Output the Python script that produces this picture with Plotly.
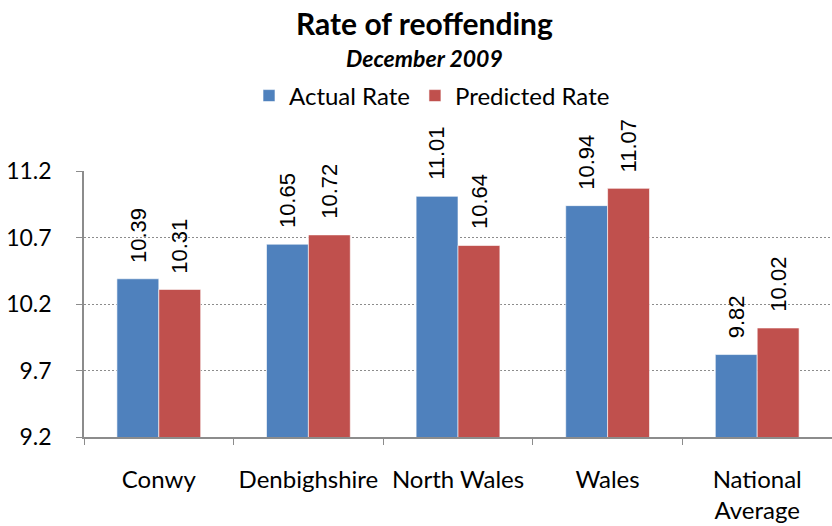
import plotly.graph_objects as go

# Reoffending rates by area, December 2009
areas = ["Conwy", "Denbighshire", "North Wales", "Wales", "National<br>Average"]
actual_rate = [10.39, 10.65, 11.01, 10.94, 9.82]
predicted_rate = [10.31, 10.72, 10.64, 11.07, 10.02]
y_ticks = [9.2, 9.7, 10.2, 10.7, 11.2]

BLUE = "#4F81BD"
RED = "#C0504D"
TEXT_FONT = "Lato, Carlito, Calibri, sans-serif"
LABEL_FONT = "Liberation Sans, Arial, sans-serif"

fig = go.Figure()
fig.add_trace(go.Bar(
    name="Actual Rate", x=areas, y=actual_rate,
    marker=dict(color=BLUE, line=dict(color="rgba(255,255,255,0.6)", width=1)),
))
fig.add_trace(go.Bar(
    name="Predicted Rate", x=areas, y=predicted_rate,
    marker=dict(color=RED, line=dict(color="rgba(255,255,255,0.6)", width=1)),
))

# Rotated value labels above each bar
BAR_HALF = 21
for series, shift in ((actual_rate, -BAR_HALF), (predicted_rate, BAR_HALF)):
    for area, val in zip(areas, series):
        fig.add_annotation(
            x=area, y=val, xref="x", yref="y",
            text=f"{val:.2f}", textangle=-90, showarrow=False,
            xanchor="center", yanchor="bottom", xshift=shift, yshift=14,
            font=dict(family=LABEL_FONT, size=22, color="#000000"),
        )

# Title and subtitle
fig.add_annotation(
    text="<b>Rate of reoffending</b>", xref="paper", yref="paper",
    x=(424 - 84) / 748, y=1, yshift=148, showarrow=False,
    xanchor="center", yanchor="middle",
    font=dict(family=TEXT_FONT, size=30, color="#000000"),
)
fig.add_annotation(
    text="<b><i>December 2009</i></b>", xref="paper", yref="paper",
    x=(424 - 84) / 748, y=1, yshift=113, showarrow=False,
    xanchor="center", yanchor="middle",
    font=dict(family=TEXT_FONT, size=23, color="#000000"),
)

fig.update_layout(
    width=832, height=526,
    margin=dict(l=84, r=0, t=171, b=89),
    paper_bgcolor="white", plot_bgcolor="white",
    barmode="group", bargap=0.44, bargroupgap=0,
    font=dict(family=TEXT_FONT, size=24, color="#000000"),
    showlegend=True,
    legend=dict(
        orientation="h", xref="container", yref="container",
        x=432 / 832, y=1 - 96 / 526, xanchor="center", yanchor="middle",
        font=dict(family=TEXT_FONT, size=24), itemwidth=30,
        traceorder="normal",
    ),
    xaxis=dict(
        type="category", showline=True, linecolor="#8C8C8C", linewidth=1.5,
        ticks="outside", ticklen=6, tickcolor="#8C8C8C", tickson="boundaries",
        showgrid=False, ticklabelstandoff=20,
        tickfont=dict(family=TEXT_FONT, size=24),
    ),
    yaxis=dict(
        range=[9.2, 11.2005], tickvals=y_ticks, ticktext=[f"{v:.1f}" for v in y_ticks],
        showline=True, linecolor="#8C8C8C", linewidth=1.5,
        ticks="outside", ticklen=6, tickcolor="#8C8C8C",
        showgrid=True, gridcolor="#8C8C8C", griddash="2px,2px", gridwidth=1,
        zeroline=False, ticklabelstandoff=20,
        tickfont=dict(family=TEXT_FONT, size=23),
    ),
)

fig.write_html("out.html")
